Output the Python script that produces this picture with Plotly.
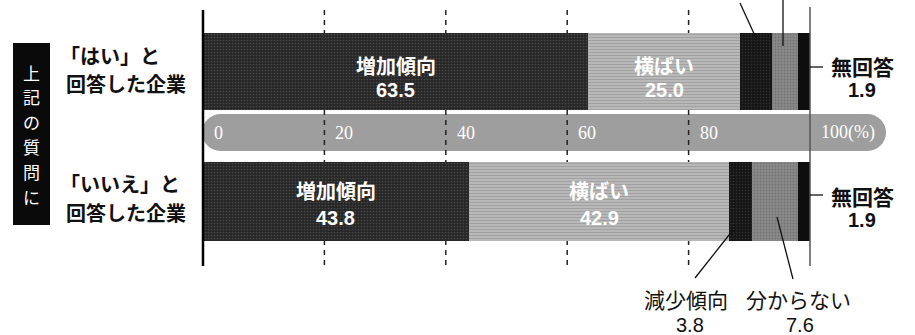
import plotly.graph_objects as go

# ---------------- data ----------------
row_names = ["「はい」と回答した企業", "「いいえ」と回答した企業"]
categories = ["増加傾向", "横ばい", "減少傾向", "分からない", "無回答"]
yes_values = [63.5, 25.0, 5.2, 4.4, 1.9]
no_values = [43.8, 42.9, 3.8, 7.6, 1.9]
tick_values = [0, 20, 40, 60, 80, 100]
tick_labels = ["0", "20", "40", "60", "80", "100(%)"]
side_title = "上記の質問に"

# ---------------- layout constants ----------------
W, H = 915, 335
PX0, PXPER = 203.0, 6.07          # pixel of 0 %, pixels per 1 %
ROW_Y = [71.5, 201.5]            # bar centres (pixel-like y axis)
ROW_H = [77, 79]
colors = ["#303030", "#b2b2b2", "#1c1c1c", "#7c7c7c", "#0e0e0e"]
patterns = [
    dict(shape=".", fgcolor="#6e6e6e", bgcolor="#262626", size=3, solidity=0.25),
    dict(shape="-", fgcolor="#8a8a8a", bgcolor="#b8b8b8", size=3, solidity=0.35),
    dict(shape=".", fgcolor="#4a4a4a", bgcolor="#161616", size=3, solidity=0.2),
    dict(shape=".", fgcolor="#5a5a5a", bgcolor="#8a8a8a", size=3, solidity=0.3),
    dict(shape="", fgcolor="#000", bgcolor="#0e0e0e"),
]
JP = "Noto Sans CJK JP"


def pxx(p):
    """pixel x -> paper x"""
    return p / W


fig = go.Figure()
rows_vals = [yes_values, no_values]
for i, cat in enumerate(categories):
    fig.add_trace(go.Bar(
        y=ROW_Y, x=[yes_values[i], no_values[i]], orientation="h",
        width=ROW_H, name=cat,
        marker=dict(color=colors[i], line=dict(width=0), pattern=patterns[i]),
        hoverinfo="skip", showlegend=False,
    ))

shapes = []
annotations = []

# pill axis band
PILL_Y0, PILL_Y1 = 114, 151
PILL_L, PILL_R = 202, 886
r = (PILL_Y1 - PILL_Y0) / 2
pill_col = "#9e9e9e"
shapes.append(dict(type="rect", xref="paper", yref="y", x0=pxx(PILL_L + r), x1=pxx(PILL_R - r),
                   y0=PILL_Y0, y1=PILL_Y1, fillcolor=pill_col, line=dict(width=0), layer="below"))
for cx in (PILL_L + r, PILL_R - r):
    shapes.append(dict(type="circle", xref="paper", yref="y", x0=pxx(cx - r), x1=pxx(cx + r),
                       y0=PILL_Y0, y1=PILL_Y1, fillcolor=pill_col, line=dict(width=0), layer="below"))

# dashed gridlines
for t in tick_values[1:-1]:
    shapes.append(dict(type="line", xref="x", yref="y", x0=t, x1=t, y0=10, y1=266,
                       line=dict(color="#222", width=1.5, dash="5px,5px"), layer="below"))
# axis lines
shapes.append(dict(type="line", xref="x", yref="y", x0=0, x1=0, y0=10, y1=266,
                   line=dict(color="#000", width=2.5), layer="above"))
shapes.append(dict(type="line", xref="x", yref="y", x0=100, x1=100, y0=7, y1=266,
                   line=dict(color="#555", width=1.5), layer="above"))

# tick labels on pill
for t, lab in zip(tick_values, tick_labels):
    annotations.append(dict(x=t, y=(PILL_Y0 + PILL_Y1) / 2, xref="x", yref="y", text=lab,
                            showarrow=False, xanchor="left", xshift=9,
                            font=dict(family="Liberation Serif", size=18, color="white")))

# in-bar labels
offsets = [(-6.5, 18.5), (-11, 16)]
for ri, vals in enumerate(rows_vals):
    cum = 0
    for ci, v in enumerate(vals):
        centre = cum + v / 2
        cum += v
        if ci < 2:
            annotations.append(dict(x=centre, y=ROW_Y[ri] + offsets[ri][0], xref="x", yref="y",
                                    text=f"<b>{categories[ci]}</b>", showarrow=False,
                                    xanchor="center",
                                    font=dict(family=JP, size=20, color="white")))
            annotations.append(dict(x=centre, y=ROW_Y[ri] + offsets[ri][1], xref="x", yref="y",
                                    text=f"<b>{v:.1f}</b>", showarrow=False, xanchor="center",
                                    font=dict(family="Liberation Sans", size=20, color="white")))

# row labels
row_lines = [("「はい」と", "回答した企業"), ("「いいえ」と", "回答した企業")]
row_text_y = [(55, 83), (183, 212)]
for (l1, l2), (y1, y2) in zip(row_lines, row_text_y):
    annotations.append(dict(x=pxx(58), y=y1, xref="paper", yref="y", text=f"<b>{l1}</b>",
                            showarrow=False, xanchor="left",
                            font=dict(family=JP, size=20, color="#111")))
    annotations.append(dict(x=pxx(64), y=y2, xref="paper", yref="y", text=f"<b>{l2}</b>",
                            showarrow=False, xanchor="left",
                            font=dict(family=JP, size=20, color="#111")))

# side black box with vertical title (one character per annotation)
shapes.append(dict(type="rect", xref="paper", yref="y", x0=pxx(13), x1=pxx(50), y0=43, y1=225,
                   fillcolor="#0a0a0a", line=dict(width=0), layer="above"))
CH_STEP = 24.8
ch_top = 134 - CH_STEP * (len(side_title) - 1) / 2
for k, ch in enumerate(side_title):
    annotations.append(dict(x=pxx(31.5), y=ch_top + k * CH_STEP, xref="paper", yref="y",
                            text=ch, showarrow=False, xanchor="center", yanchor="middle",
                            font=dict(family=JP, size=17, color="white")))

# leader lines


def seg(x0, y0, x1, y1, w=1.3):
    shapes.append(dict(type="line", xref="paper", yref="y", x0=pxx(x0), x1=pxx(x1), y0=y0, y1=y1,
                       line=dict(color="#111", width=w), layer="above"))


seg(740, 3, 756, 38)
seg(783, 0, 783, 46)
seg(810, 67, 823, 67)
seg(810, 195, 823, 195)
seg(695, 278, 733, 230)
seg(793, 279, 777, 217)


# outside labels
def lab(x, y, text, bold=True, size=21, family=JP):
    t = f"<b>{text}</b>" if bold else text
    annotations.append(dict(x=pxx(x), y=y, xref="paper", yref="y", text=t, showarrow=False,
                            xanchor="center", yanchor="middle",
                            font=dict(family=family, size=size, color="#111")))


lab(862, 66, categories[4])
lab(862, 90, f"{yes_values[4]:.1f}", family="Liberation Sans", size=20)
lab(862, 196, categories[4])
lab(862, 220, f"{no_values[4]:.1f}", family="Liberation Sans", size=20)
lab(686, 299, categories[2], bold=False)
lab(690, 325, f"{no_values[2]:.1f}", bold=False, size=20, family="Liberation Sans")
lab(798, 299, categories[3], bold=False)
lab(800, 325, f"{no_values[3]:.1f}", bold=False, size=20, family="Liberation Sans")

fig.update_layout(
    width=W, height=H, margin=dict(l=0, r=0, t=0, b=0),
    paper_bgcolor="white", plot_bgcolor="white",
    barmode="stack", bargap=0,
    xaxis=dict(range=[-PX0 / PXPER, (W - PX0) / PXPER], visible=False, fixedrange=True),
    yaxis=dict(range=[H, 0], visible=False, fixedrange=True),
    shapes=shapes, annotations=annotations, showlegend=False,
)

fig.write_html("out.html")
